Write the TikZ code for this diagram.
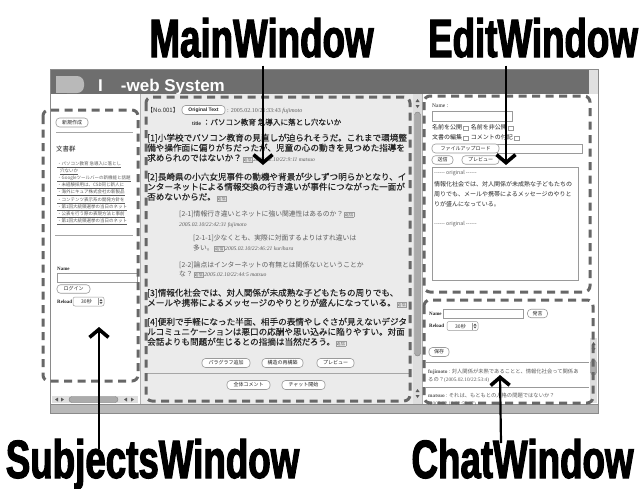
\documentclass[tikz,border=0pt]{standalone}
\usepackage{fontspec}
\usetikzlibrary{arrows.meta}
\setmainfont{Liberation Serif}
\newfontfamily\jp{Noto Sans CJK JP}
\newfontfamily\jpheavy[FakeBold=0.35]{Noto Sans CJK JP}
\newfontfamily\uisans{Liberation Sans}
\newfontfamily\callfont[UprightFont={* Bold},FakeStretch=0.68,FakeBold=2]{Liberation Sans}

\definecolor{barDark}{HTML}{6E6E6E}
\definecolor{tabGray}{HTML}{B9B9B9}
\definecolor{paneGray}{HTML}{EBEBEB}
\definecolor{dashGray}{HTML}{676767}
\definecolor{frameGray}{HTML}{8A8A8A}
\definecolor{textDark}{HTML}{262626}
\definecolor{textMid}{HTML}{5C5C5C}
\definecolor{fieldEdge}{HTML}{9A9A9A}

\setlength{\fboxsep}{0.5pt}
\setlength{\fboxrule}{0.3pt}
\newcommand\jpsize[1]{\fontsize{#1}{#1}\selectfont}
\newcommand\reply{\kern0.8pt\fcolorbox{fieldEdge}{black!8}{\jp\jpsize{4.2}\color{textMid}返信}\kern0.8pt}
\newcommand\stamp[1]{{\color{textMid}\rmfamily\itshape\fontsize{5.6}{5.6}\selectfont #1}}
\newcommand\chk{\kern0.8pt\raisebox{-0.4pt}{\fcolorbox{fieldEdge}{white}{\rule{0pt}{3.6pt}\rule{3.6pt}{0pt}}}}
\newcommand\lnk[1]{\underline{#1}}

\tikzset{
  region/.style={draw=dashGray, line width=3pt, dash pattern=on 8pt off 5.5pt, rounded corners=6pt},
  uibtn/.style={draw=fieldEdge, fill=white, rounded corners=3.5pt, line width=0.6pt,
    inner xsep=2pt, inner ysep=0.8pt, font=\jp\jpsize{5}, text=textDark},
  field/.style={draw=fieldEdge, fill=white, line width=0.5pt},
  mtext/.style={anchor=base west, inner sep=0pt, font=\jpheavy\jpsize{8.6}, text=textDark},
  rtext/.style={anchor=base west, inner sep=0pt, font=\jp\jpsize{6.8}, text=textMid},
  smalltext/.style={anchor=base west, inner sep=0pt, font=\jp\jpsize{4.5}, text=textMid},
  edittext/.style={anchor=base west, inner sep=0pt, font=\jp\jpsize{6}, text=textDark},
  chattext/.style={anchor=base west, inner sep=0pt, font=\jp\jpsize{5.3}, text=textMid},
  boldtag/.style={anchor=base west, inner sep=0pt, font=\rmfamily\bfseries\fontsize{5}{5}\selectfont, text=textDark},
  callout/.style={draw=black, line width=2.2pt, -{Straight Barb[length=8pt,width=19pt,line width=3.6pt]}},
  calllabel/.style={anchor=base, inner sep=0pt, font=\callfont\fontsize{54}{54}\selectfont, text=black},
  trackfill/.style={fill=black!13},
  thumb/.style={fill=black!33, draw=black!50, line width=0.4pt, rounded corners=3pt},
  pics/selbox/.style={code={
    \draw[field, rounded corners=2pt] (0,0) rectangle (31,9);
    \node[anchor=base west, inner sep=0pt, font=\jp\jpsize{5}, text=textDark] at (8,6.5) {30秒};
    \draw[fieldEdge, line width=0.4pt] (25,1) -- (25,8);
    \fill[textMid] (28,2) -- (29.6,4) -- (26.4,4) -- cycle;
    \fill[textMid] (28,7) -- (29.6,5) -- (26.4,5) -- cycle;
  }},
}

\begin{document}
\begin{tikzpicture}[x=1pt,y=-1pt]
\useasboundingbox (0,0) rectangle (639,488);

% ---------- window frame ----------
\fill[white] (50,69) rectangle (598,413);
\fill[barDark] (50,69) rectangle (589,94);
\fill[black!12] (589,69) rectangle (598,94);
\fill[tabGray] (56,76) rectangle (70,93);
\fill[tabGray, rounded corners=7pt] (60,76) rectangle (84,93);
\node[anchor=base west, inner sep=0pt, text=white, font=\uisans\bfseries\fontsize{17}{17}\selectfont]
  (apptitle) at (98,91) {I\hspace{18pt}-web System};

% panes
\fill[paneGray] (140,94) rectangle (413,404);
\fill[trackfill] (413,94) rectangle (422,404);
\draw[black!30, line width=0.5pt] (140,94) -- (140,404);
\draw[black!30, line width=0.5pt] (422,94) -- (422,404);
\fill[black!28] (50,404) rectangle (598,413);
\draw[black!45, line width=0.6pt] (50,404) -- (598,404);
\draw[frameGray, line width=1pt] (50,69) rectangle (598,413);

% main vertical scrollbar
\fill[textMid] (417.5,99) -- (419.5,102) -- (415.5,102) -- cycle;
\fill[textMid] (417.5,108) -- (419.5,105) -- (415.5,105) -- cycle;
\draw[thumb] (414.5,112) rectangle (420.5,356);
\fill[textMid] (417.5,389) -- (419.5,392) -- (415.5,392) -- cycle;
\fill[textMid] (417.5,398) -- (419.5,395) -- (415.5,395) -- cycle;

% subjects horizontal scrollbar
\fill[trackfill] (52,396) rectangle (138,403);
\fill[textMid] (55,399.5) -- (58,397.5) -- (58,401.5) -- cycle;
\fill[textMid] (64,399.5) -- (61,397.5) -- (61,401.5) -- cycle;
\draw[thumb] (69,396.5) rectangle (118,402.5);
\fill[textMid] (124,399.5) -- (127,397.5) -- (127,401.5) -- cycle;
\fill[textMid] (134,399.5) -- (131,397.5) -- (131,401.5) -- cycle;

% chat vertical scrollbar
\fill[trackfill] (590,338) rectangle (597,403);
\fill[textMid] (593.5,342) -- (595.5,345) -- (591.5,345) -- cycle;
\fill[textMid] (593.5,351) -- (595.5,348) -- (591.5,348) -- cycle;
\draw[thumb] (590.5,360) rectangle (596.5,375);

% ---------- subjects pane ----------
\node[uibtn, minimum width=32pt, minimum height=9pt] (bnew) at (72,122.5) {新規作成};
\draw[black!35, line width=0.5pt] (56,132) -- (133,132);
\node[anchor=base west, inner sep=0pt, font=\jp\jpsize{6.5}, text=textDark] (docs) at (56,151.5) {文書群};
\node[smalltext] (s1) at (57,165.8) {\lnk{・パソコン教育 急導入に落とし}};
\node[smalltext] (s1b) at (60,172) {\lnk{穴ないか}};
\node[smalltext] (s2) at (57,179) {\lnk{・Googleツールバーの新機能と話題}};
\node[smalltext] (s3) at (57,186.6) {\lnk{・未経験採用は、CSD同じ新人に}};
\node[smalltext] (s4) at (57,193.8) {\lnk{・海外にキュア株式会社の新製品}};
\node[smalltext] (s5) at (57,201) {\lnk{・コンテンツ表示系の開発方針を}};
\node[smalltext] (s6) at (57,208.6) {\lnk{・第1回大統領選挙の当日のネット}};
\node[smalltext] (s7) at (57,215.6) {\lnk{・公表を行う際の表現方法と事前}};
\node[smalltext] (s8) at (57,222.8) {\lnk{・第1回大統領選挙の当日のネット}};
\draw[black!35, line width=0.5pt] (55,235) -- (133,235);
\node[boldtag] (sname) at (57,270) {Name};
\draw[field] (57,273) rectangle (137,282);
\node[uibtn, minimum width=33pt, minimum height=8.5pt] (blogin) at (73.5,289) {ログイン};
\node[boldtag] (sreload) at (57,303.5) {Reload};
\pic at (73,297) {selbox};

% ---------- main pane ----------
\node[anchor=base west, inner sep=0pt, font=\jp\jpsize{6}, text=textDark] (mno) at (147,112.5) {【No.001】};
\node[uibtn, minimum width=43pt, minimum height=9pt, font=\uisans\bfseries\fontsize{5}{5}\selectfont] (borig) at (203.5,110) {Original Text};
\node[anchor=base west, inner sep=0pt, font=\rmfamily\fontsize{6}{6}\selectfont, text=textMid] (mstamp) at (227,112.5) {: 2005.02.10/21:33:43 \textit{fujimoto}};
\node[anchor=base west, inner sep=0pt, text=textDark] (mtitle) at (192,125)
  {{\uisans\bfseries\fontsize{5}{5}\selectfont title}\,{\jpheavy\jpsize{7.6}：パソコン教育 急導入に落とし穴ないか}};

\node[mtext] (p1a) at (147,141) {[1]小学校でパソコン教育の見直しが迫られそうだ。これまで環境整};
\node[mtext] (p1b) at (147,151) {備や操作面に偏りがちだったが、児童の心の動きを見つめた指導を};
\node[mtext] (p1c) at (147,161) {求められのではないか？\reply\stamp{2005.02.10/22:9:11 matsuo}};

\node[mtext] (p2a) at (147,180) {[2]長崎県の小六女児事件の動機や背景が少しずつ明らかとなり、イ};
\node[mtext] (p2b) at (147,190) {ンターネットによる情報交換の行き違いが事件につながった一面が};
\node[mtext] (p2c) at (147,200) {否めないからだ。\reply};

\node[rtext] (r21a) at (179,216.5) {[2-1]情報行き違いとネットに強い関連性はあるのか？\reply};
\node[rtext] (r21b) at (179,226.5) {\stamp{2005.02.10/22:42:31 fujimoto}};
\node[rtext] (r211a) at (193,240.5) {[2-1-1]少なくとも、実際に対面するよりはすれ違いは};
\node[rtext] (r211b) at (193,250.5) {多い。\reply\stamp{2005.02.10/22:46:21 kurihara}};
\node[rtext] (r22a) at (179,267) {[2-2]論点はインターネットの有無とは関係ないということか};
\node[rtext] (r22b) at (179,276.5) {な？\reply\stamp{2005.02.10/22:44:5 matsuo}};

\node[mtext] (p3a) at (147,296) {[3]情報化社会では、対人関係が未成熟な子どもたちの周りでも、};
\node[mtext] (p3b) at (147,306) {メールや携帯によるメッセージのやりとりが盛んになっている。\reply};

\node[mtext] (p4a) at (147,325) {[4]便利で手軽になった半面、相手の表情やしぐさが見えないデジタ};
\node[mtext] (p4b) at (147,335) {ルコミュニケーションは悪口の応酬や思い込みに陥りやすい。対面};
\node[mtext] (p4c) at (147,345) {会話よりも問題が生じるとの指摘は当然だろう。\reply};

\node[uibtn, minimum width=48pt, minimum height=9pt] (bpara) at (226,363) {パラグラフ追加};
\node[uibtn, minimum width=41pt, minimum height=9pt] (bstruct) at (282.5,363) {構造の再構築};
\node[uibtn, minimum width=37pt, minimum height=9pt] (bprev) at (335.5,363) {プレビュー};
\draw[black!35, line width=0.5pt] (146,373) -- (410,373);
\node[uibtn, minimum width=43pt, minimum height=9pt] (ball) at (248.5,385) {全体コメント};
\node[uibtn, minimum width=43pt, minimum height=9pt] (bchat) at (303.5,385) {チャット開始};

% ---------- edit pane ----------
\node[boldtag, font=\rmfamily\fontsize{5.5}{5.5}\selectfont] (ename) at (432,107.5) {Name :};
\draw[field] (432,111) rectangle (512,121);
\node[edittext] (eopt1) at (432,129.5) {名前を公開\chk\ \ 名前を非公開\chk};
\node[edittext] (eopt2) at (432,139.5) {文書の編集\chk\ \ コメントの付記\chk};
\draw[field] (497,144) rectangle (582,153);
\node[uibtn, minimum width=67pt, minimum height=9pt] (bfile) at (465.5,148.5) {ファイルアップロード};
\node[uibtn, minimum width=21pt, minimum height=8.5pt] (bsend) at (442.5,160) {送信};
\node[uibtn, minimum width=37pt, minimum height=8.5pt] (beprev) at (480.5,160) {プレビュー};
\draw[field] (432,167) rectangle (578,280);
\node[edittext, font=\jp\jpsize{5.2}, text=textMid] (eo1) at (434,174) {------ original ------};
\node[edittext] (et1) at (434,186) {情報化社会では、対人関係が未成熟な子どもたちの};
\node[edittext] (et2) at (434,196) {周りでも、メールや携帯によるメッセージのやりと};
\node[edittext] (et3) at (434,206) {りが盛んになっている。};
\node[edittext, font=\jp\jpsize{5.2}, text=textMid] (eo2) at (434,225) {------ original ------};

% ---------- chat pane ----------
\node[boldtag] (cname) at (429,315) {Name};
\draw[field] (443,309) rectangle (523,318);
\node[uibtn, minimum width=20pt, minimum height=8.5pt] (bsay) at (537.5,313.5) {発言};
\node[boldtag] (creload) at (429,327.5) {Reload};
\pic at (447,321.5) {selbox};
\node[uibtn, minimum width=20pt, minimum height=9pt] (bsave) at (439,352) {保存};
\draw[black!40, line width=0.5pt] (426,362) -- (589,362);
\begin{scope}
  \clip (424,290) rectangle (598,404);
  \node[chattext] (c1) at (428,373) {{\rmfamily\bfseries fujimoto} : 対人関係が未熟であることと、情報化社会って関係あ};
  \node[chattext] (c2) at (428,381) {るの？{\rmfamily (2005.02.10/22:53:4)}};
  \draw[black!40, line width=0.5pt] (426,387) -- (589,387);
  \node[chattext] (c3) at (428,397.5) {{\rmfamily\bfseries matsuo} : それは、もともとの人格の問題ではないか？};
  \node[chattext] (c4) at (428,405) {\rmfamily (2005.02.10/22:59:17)};
\end{scope}

% ---------- dashed window regions ----------
\draw[region] (43,110) rectangle (138,381);
\draw[region] (146,97) rectangle (410,401);
\draw[region] (424,96) rectangle (590,292);
\draw[region] (424,300) rectangle (593,403);

% ---------- callout labels ----------
\node[calllabel] (lmain) at (261.5,57) {MainWindow};
\node[calllabel] (ledit) at (533,57) {EditWindow};
\node[calllabel] (lsub) at (152.5,478) {SubjectsWindow};
\node[calllabel] (lchat) at (522.5,478) {ChatWindow};

\coordinate (mainTip) at (263,165);
\coordinate (editTip) at (506,165);
\coordinate (subTip) at (99,327);
\coordinate (subFoot) at (99,449);
\coordinate (chatTip) at (500,375);
\coordinate (chatFoot) at (501,443);

\draw[callout, shorten <=8pt] (mainTip |- lmain.south) -- (mainTip);
\draw[callout, shorten <=8pt] (editTip |- ledit.south) -- (editTip);
\draw[callout] (subFoot) -- (subTip);
\draw[callout] (chatFoot) -- (chatTip);
\end{tikzpicture}
\end{document}
